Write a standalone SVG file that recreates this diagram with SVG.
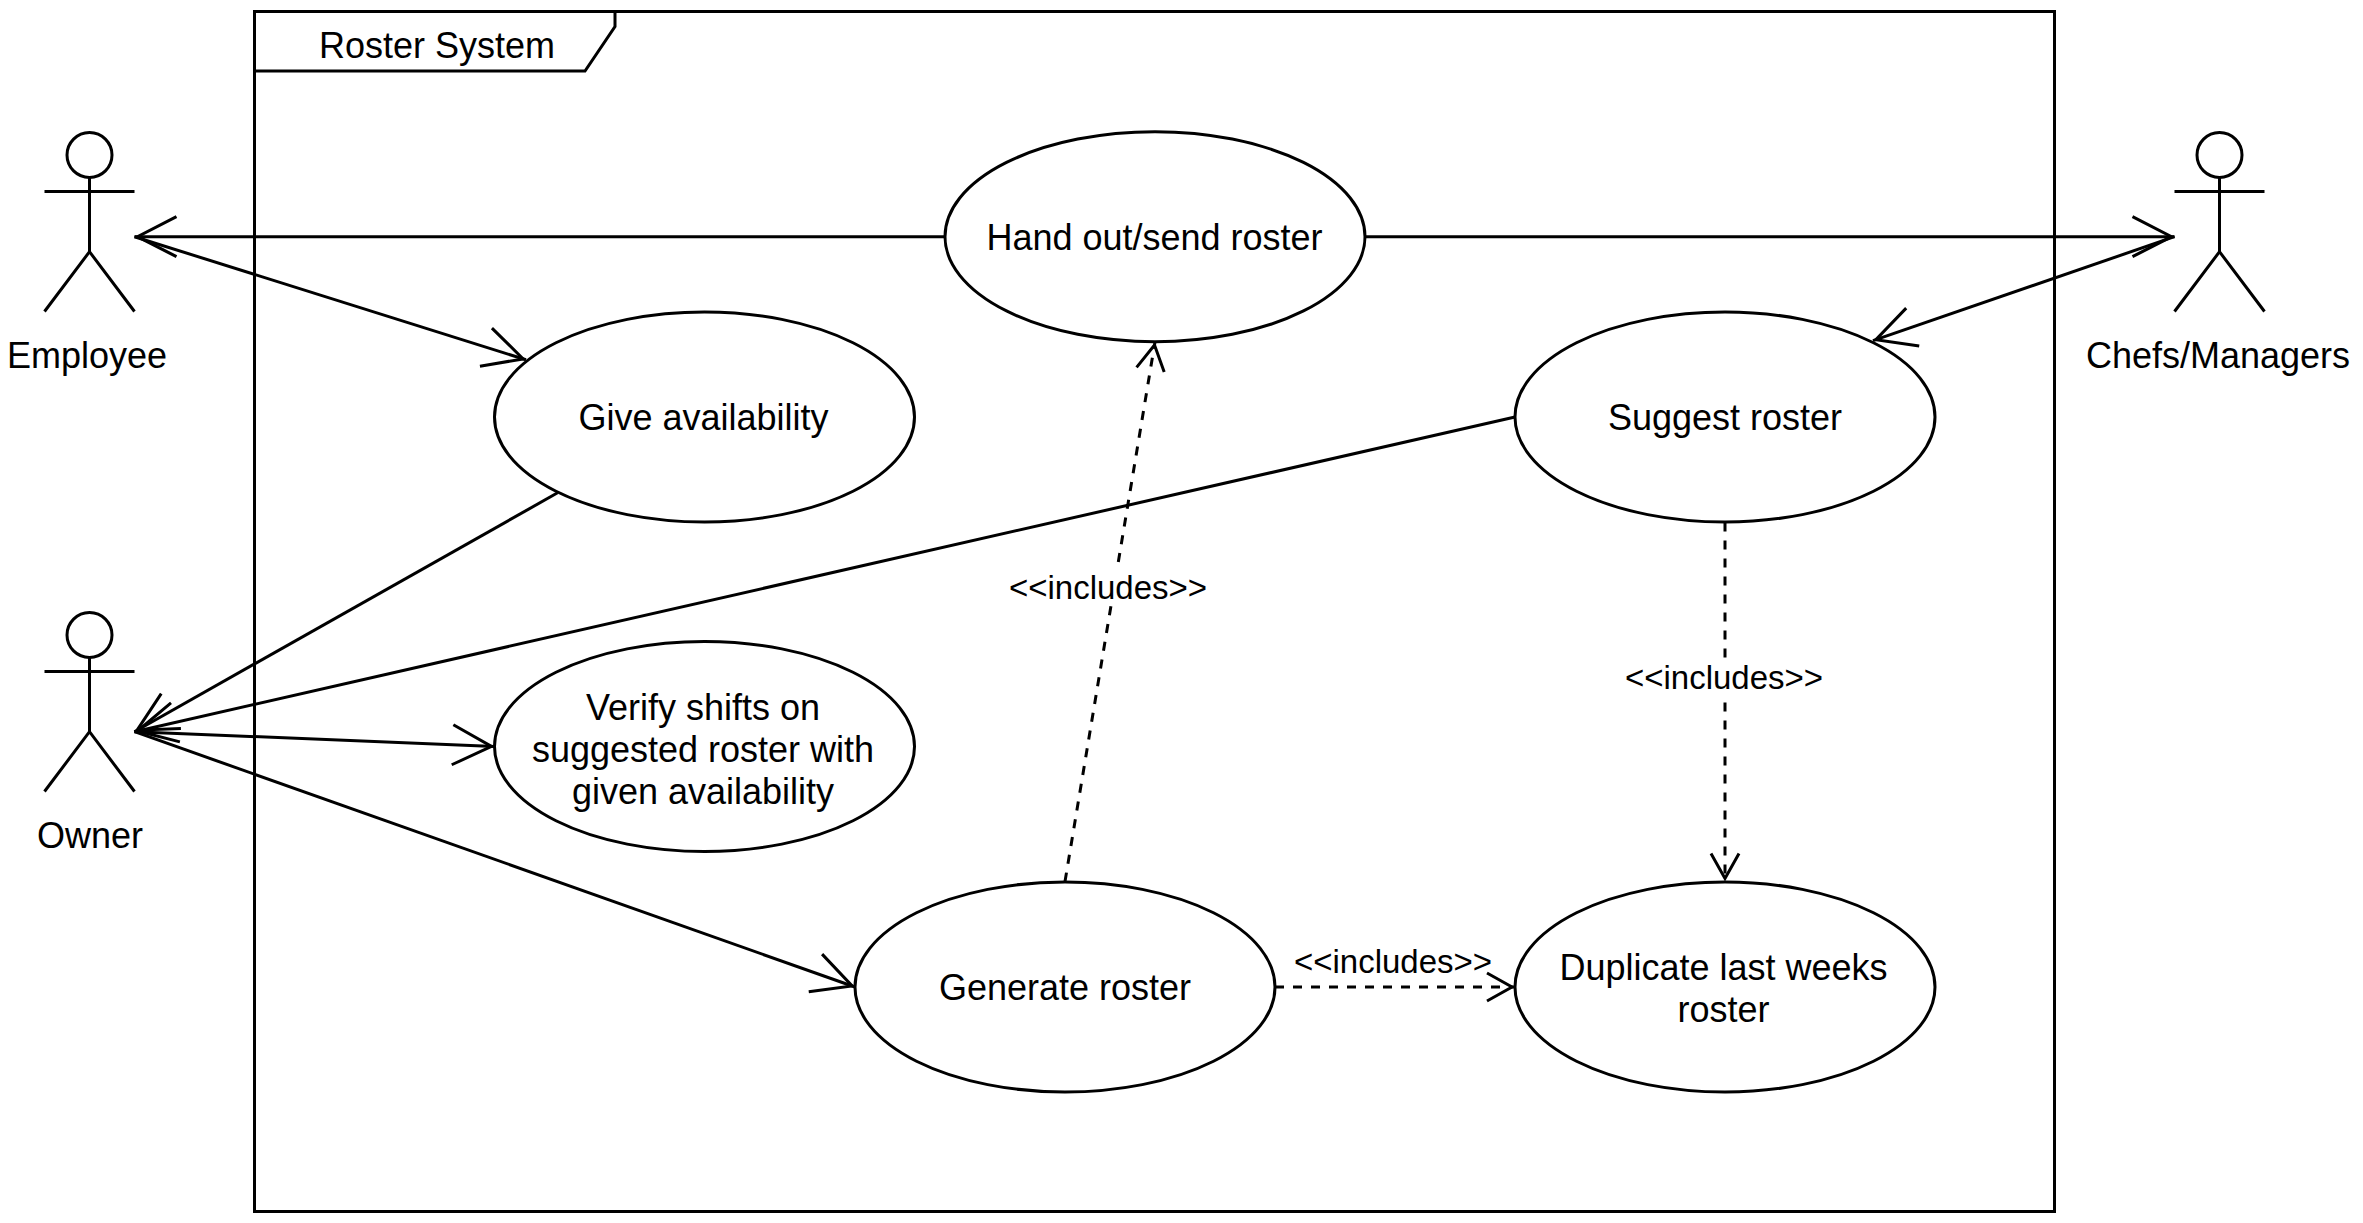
<svg xmlns="http://www.w3.org/2000/svg" width="2363" height="1223" viewBox="0 0 2363 1223">
<style>
text{font-family:"Liberation Sans",Arial,sans-serif;font-size:36px;fill:#000;text-anchor:middle}
.s{fill:none;stroke:#000;stroke-width:3}
.u{fill:#fff;stroke:#000;stroke-width:3}
.c{fill:none;stroke:#000;stroke-width:3;marker-end:url(#open)}
.d{stroke-dasharray:9 9;marker-end:url(#open-small)}
text.l{font-size:33px}
</style>
<defs>
<marker id="open" markerUnits="userSpaceOnUse" markerWidth="60" markerHeight="60" refX="48" refY="30" orient="auto" viewBox="0 0 60 60" overflow="visible"><path d="M6,10 L45,30 L6,50" fill="none" stroke="#000" stroke-width="3"/></marker>
<marker id="open-small" markerUnits="userSpaceOnUse" markerWidth="60" markerHeight="60" refX="48" refY="30" orient="auto" viewBox="0 0 60 60" overflow="visible"><path d="M20,16 L45,30 L20,44" fill="none" stroke="#000" stroke-width="3"/></marker>
</defs>
<rect width="2363" height="1223" fill="#fff"/>
<g id="frame">
<rect class="s" x="254.5" y="11.5" width="1800" height="1200"/>
<path class="s" d="M254.5,71 H585 L615,26.5 V11.5"/>
<text x="437" y="58">Roster System</text>
</g>
<g id="connectors">
<path class="c" d="M945,236.7 H134.5"/>
<path class="c" d="M1365,236.7 H2174.5"/>
<path class="c" d="M134.5,236.7 L526,359.8"/>
<path class="c" d="M557.6,492.8 L134.5,731.7"/>
<path class="c" d="M1515,417 L134.5,731.7"/>
<path class="c" d="M134.5,731.7 L494.5,746.5"/>
<path class="c" d="M134.5,731.7 L855,987"/>
<path class="c" d="M2174.5,236.7 L1873,340.7"/>
<path class="c d" d="M1065,881.5 L1155,342"/>
<path class="c d" d="M1725,522.5 V881.5"/>
<path class="c d" d="M1275,987 H1515"/>
<rect x="1008" y="568" width="200" height="36" fill="#fff"/>
<text class="l" x="1108" y="598.5">&lt;&lt;includes&gt;&gt;</text>
<rect x="1624" y="659" width="200" height="36" fill="#fff"/>
<text class="l" x="1724" y="689">&lt;&lt;includes&gt;&gt;</text>
<text class="l" x="1393" y="973">&lt;&lt;includes&gt;&gt;</text>
</g>
<g id="actor-employee">
<ellipse class="s" cx="89.5" cy="155" rx="22.5" ry="22.5"/>
<path class="s" d="M89.5,177.5 V251.7 M44.5,191.5 H134.5 M44.5,311.5 L89.5,251.7 L134.5,311.5"/>
<text x="87" y="367.5">Employee</text>
</g>
<g id="actor-owner">
<ellipse class="s" cx="89.5" cy="635" rx="22.5" ry="22.5"/>
<path class="s" d="M89.5,657.5 V731.7 M44.5,671.5 H134.5 M44.5,791.5 L89.5,731.7 L134.5,791.5"/>
<text x="90" y="847.5">Owner</text>
</g>
<g id="actor-chefs">
<ellipse class="s" cx="2219.5" cy="155" rx="22.5" ry="22.5"/>
<path class="s" d="M2219.5,177.5 V251.7 M2174.5,191.5 H2264.5 M2174.5,311.5 L2219.5,251.7 L2264.5,311.5"/>
<text x="2218" y="367.5">Chefs/Managers</text>
</g>
<g id="uc-handout"><ellipse class="u" cx="1155" cy="236.7" rx="210" ry="105"/><text x="1154.5" y="250">Hand out/send roster</text></g>
<g id="uc-give"><ellipse class="u" cx="704.5" cy="417" rx="210" ry="105"/><text x="703.5" y="430">Give availability</text></g>
<g id="uc-suggest"><ellipse class="u" cx="1725" cy="417" rx="210" ry="105"/><text x="1725" y="430">Suggest roster</text></g>
<g id="uc-verify"><ellipse class="u" cx="704.5" cy="746.5" rx="210" ry="105"/><text x="703" y="720">Verify shifts on</text><text x="703" y="762">suggested roster with</text><text x="703" y="804">given availability</text></g>
<g id="uc-generate"><ellipse class="u" cx="1065" cy="987" rx="210" ry="105"/><text x="1065" y="1000">Generate roster</text></g>
<g id="uc-duplicate"><ellipse class="u" cx="1725" cy="987" rx="210" ry="105"/><text x="1723.5" y="980">Duplicate last weeks</text><text x="1723.5" y="1022">roster</text></g>
</svg>
